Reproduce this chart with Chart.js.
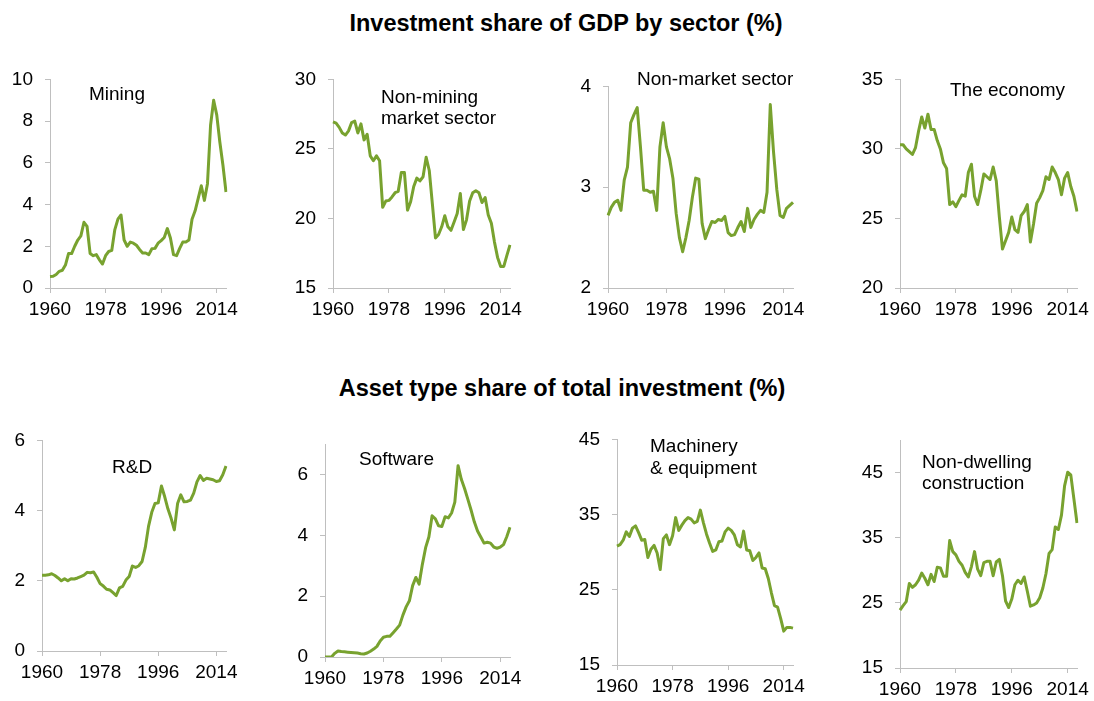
<!DOCTYPE html>
<html>
<head>
<meta charset="utf-8">
<script src="https://cdn.jsdelivr.net/npm/chart.js@4.4.1/dist/chart.umd.min.js"></script>
<style>
  body { margin: 0; background: #fff; width: 1094px; height: 701px; position: relative; overflow: hidden; font-family: "Liberation Sans", Arial, sans-serif; }
  .title { position: absolute; transform: translateX(-50%); white-space: nowrap; font-weight: bold; font-size: 23.5px; line-height: 27px; color: #000; }
  .lbl { position: absolute; white-space: nowrap; font-size: 19px; line-height: 21px; color: #000; }
  canvas { position: absolute; }
</style>
</head>
<body>
<div class="title" style="left:566px; top:10px">Investment share of GDP by sector (%)</div>
<div class="title" style="left:562px; top:375px">Asset type share of total investment (%)</div>

<script>
// categories (years) and the labelled ticks
const years = [1960, 1961, 1962, 1963, 1964, 1965, 1966, 1967, 1968, 1969,
  1970, 1971, 1972, 1973, 1974, 1975, 1976, 1977, 1978, 1979,
  1980, 1981, 1982, 1983, 1984, 1985, 1986, 1987, 1988, 1989,
  1990, 1991, 1992, 1993, 1994, 1995, 1996, 1997, 1998, 1999,
  2000, 2001, 2002, 2003, 2004, 2005, 2006, 2007, 2008, 2009,
  2010, 2011, 2012, 2013, 2014, 2015, 2016, 2017];
const tickYears = [1960, 1978, 1996, 2014];

// Investment share of GDP by sector (%)
const mining = [0.55, 0.56, 0.65, 0.8, 0.85, 1.1, 1.65, 1.65, 2.0, 2.3,
  2.5, 3.15, 2.95, 1.65, 1.55, 1.6, 1.35, 1.15, 1.55, 1.75,
  1.8, 2.8, 3.3, 3.5, 2.3, 2.0, 2.2, 2.15, 2.05, 1.85,
  1.68, 1.68, 1.6, 1.88, 1.9, 2.15, 2.27, 2.42, 2.85, 2.4,
  1.6, 1.55, 1.9, 2.2, 2.2, 2.3, 3.3, 3.7, 4.3, 4.9,
  4.2, 5.0, 7.8, 9.0, 8.3, 7.0, 5.9, 4.6];
const nonMining = [26.94, 26.85, 26.55, 26.15, 26.0, 26.3, 26.9, 27.0, 26.15, 26.8,
  25.65, 26.05, 24.5, 24.15, 24.5, 24.15, 20.8, 21.25, 21.3, 21.55,
  21.85, 21.95, 23.3, 23.3, 20.6, 21.2, 22.3, 22.9, 22.7, 23.0,
  24.4, 23.45, 21.05, 18.6, 18.85, 19.4, 20.2, 19.4, 19.15, 19.75,
  20.35, 21.8, 19.2, 19.9, 21.25, 21.85, 22.0, 21.85, 21.15, 21.5,
  20.25, 19.65, 18.3, 17.2, 16.55, 16.55, 17.35, 18.1];
const nonMarket = [2.72, 2.80, 2.85, 2.87, 2.77, 3.07, 3.2, 3.64, 3.72, 3.79,
  3.4, 2.97, 2.97, 2.95, 2.96, 2.77, 3.4, 3.64, 3.4, 3.28,
  3.09, 2.74, 2.5, 2.36, 2.5, 2.67, 2.9, 3.09, 3.08, 2.64,
  2.49, 2.58, 2.66, 2.65, 2.68, 2.67, 2.71, 2.55, 2.52, 2.53,
  2.6, 2.66, 2.56, 2.79, 2.6, 2.68, 2.73, 2.77, 2.75, 2.95,
  3.82, 3.35, 2.98, 2.72, 2.7, 2.79, 2.82, 2.85];
const economy = [30.3, 30.3, 30.0, 29.8, 29.6, 30.1, 31.3, 32.3, 31.5, 32.5,
  31.4, 31.4, 30.6, 30.0, 29.0, 28.6, 26.0, 26.2, 25.85, 26.3,
  26.7, 26.6, 28.3, 28.9, 26.6, 26.0, 27.0, 28.2, 28.0, 27.8,
  28.7, 27.7, 25.1, 22.8, 23.4, 24.0, 25.1, 24.2, 24.0, 25.2,
  25.5, 26.0, 23.3, 24.6, 26.1, 26.5, 27.0, 28.0, 27.8, 28.7,
  28.3, 27.8, 26.7, 27.9, 28.3, 27.3, 26.6, 25.5];

// Asset type share of total investment (%)
const rnd = [2.16, 2.16, 2.17, 2.2, 2.15, 2.08, 2.0, 2.06, 2.0, 2.06,
  2.05, 2.08, 2.12, 2.16, 2.24, 2.23, 2.25, 2.1, 1.92, 1.85,
  1.76, 1.74, 1.66, 1.58, 1.8, 1.84, 2.02, 2.12, 2.42, 2.38,
  2.43, 2.55, 2.95, 3.55, 3.95, 4.2, 4.22, 4.7, 4.4, 4.05,
  3.78, 3.45, 4.2, 4.45, 4.25, 4.26, 4.3, 4.5, 4.82, 5.0,
  4.86, 4.92, 4.9, 4.88, 4.83, 4.85, 5.02, 5.27];
const software = [0, 0, 0, 0.12, 0.2, 0.18, 0.17, 0.16, 0.15, 0.14,
  0.13, 0.11, 0.1, 0.13, 0.19, 0.26, 0.35, 0.53, 0.65, 0.68,
  0.68, 0.8, 0.92, 1.05, 1.38, 1.65, 1.85, 2.35, 2.62, 2.4,
  3.05, 3.6, 3.95, 4.65, 4.55, 4.32, 4.3, 4.62, 4.58, 4.74,
  5.1, 6.3, 5.85, 5.55, 5.2, 4.84, 4.45, 4.15, 3.95, 3.75,
  3.78, 3.75, 3.62, 3.58, 3.62, 3.7, 3.96, 4.27];
const machinery = [30.8, 31.0, 31.6, 32.7, 32.1, 33.2, 33.5, 32.6, 31.6, 31.7,
  29.3, 30.4, 30.9, 29.9, 27.7, 31.8, 32.3, 31.0, 32.2, 34.6,
  32.9, 33.6, 34.2, 34.6, 34.4, 33.9, 34.1, 35.6, 33.9, 32.4,
  31.2, 30.1, 30.3, 31.4, 31.5, 32.7, 33.2, 32.9, 32.3, 31.0,
  30.7, 32.8, 30.3, 30.2, 28.9, 29.3, 29.9, 27.9, 27.8, 26.5,
  24.6, 22.9, 22.7, 21.2, 19.5, 20.0, 20.0, 19.9];
const nonDwelling = [23.9, 24.6, 25.2, 28.0, 27.4, 27.8, 28.5, 29.6, 28.8, 27.8,
  29.4, 28.3, 30.5, 30.4, 29.1, 29.1, 34.6, 32.9, 32.4, 31.4,
  30.8, 29.7, 29.0, 30.6, 32.9, 30.2, 29.2, 31.2, 31.4, 31.4,
  29.2, 31.3, 31.7, 29.2, 25.3, 24.3, 25.6, 27.8, 28.5, 28.0,
  29.0, 26.8, 24.5, 24.7, 25.0, 25.8, 27.3, 29.5, 32.6, 33.2,
  36.7, 36.3, 38.5, 43.0, 45.1, 44.7, 41.0, 37.3];

// y tick labels for each panel
const ticksMining = [0, 2, 4, 6, 8, 10];
const ticksNonMining = [15, 20, 25, 30];
const ticksNonMarket = [2, 3, 4];
const ticksEconomy = [20, 25, 30, 35];
const ticksRnd = [0, 2, 4, 6];
const ticksSoftware = [0, 2, 4, 6];
const ticksMachinery = [15, 25, 35, 45];
const ticksNonDwelling = [15, 25, 35, 45];

// panel layout: canvas box [left, top, width, height], label position [left, top]
const panels = [
  { data: mining,      min: 0,  max: 10, ticks: ticksMining,      name: ['Mining'],                        box: [10, 56, 236, 272],  pos: [89, 83] },
  { data: nonMining,   min: 15, max: 30, ticks: ticksNonMining,   name: ['Non-mining', 'market sector'],   box: [293, 56, 237, 272], pos: [381, 86] },
  { data: nonMarket,   min: 2,  max: 4,  ticks: ticksNonMarket,   name: ['Non-market sector'],             box: [568, 63, 245, 265], pos: [637, 68] },
  { data: economy,     min: 20, max: 35, ticks: ticksEconomy,     name: ['The economy'],                   box: [860, 56, 237, 272], pos: [950, 79] },
  { data: rnd,         min: 0,  max: 6,  ticks: ticksRnd,         name: ['R&D'],                           box: [2, 417, 244, 274],  pos: [112, 456] },
  { data: software,    min: 0,  max: 7,  ticks: ticksSoftware,    name: ['Software'],                      box: [285, 421, 245, 276], pos: [359, 448] },
  { data: machinery,   min: 15, max: 45, ticks: ticksMachinery,   name: ['Machinery', '& equipment'],      box: [577, 416, 236, 289], pos: [650, 435], lh: 21.5 },
  { data: nonDwelling, min: 15, max: 50, ticks: ticksNonDwelling, name: ['Non-dwelling', 'construction'],  box: [860, 417, 237, 291], pos: [922, 452], lh: 20.7 }
];

const FONT = 'Liberation Sans, Arial, sans-serif';
const GREEN = '#78a22f';
const AXIS = '#bfbfbf';

panels.forEach(p => {
  const [l, t, w, h] = p.box;
  const cv = document.createElement('canvas');
  cv.width = w; cv.height = h;
  cv.style.left = l + 'px'; cv.style.top = t + 'px';
  cv.style.width = w + 'px'; cv.style.height = h + 'px';
  document.body.appendChild(cv);

  const lbl = document.createElement('div');
  lbl.className = 'lbl';
  lbl.style.left = p.pos[0] + 'px';
  lbl.style.top = p.pos[1] + 'px';
  if (p.lh) lbl.style.lineHeight = p.lh + 'px';
  lbl.innerHTML = p.name.map(s => s.replace('&', '&amp;')).join('<br>');
  document.body.appendChild(lbl);

  new Chart(cv, {
    type: 'line',
    data: {
      labels: years,
      datasets: [{
        data: p.data,
        borderColor: GREEN,
        borderWidth: 3,
        pointRadius: 0,
        tension: 0,
        fill: false,
        borderJoinStyle: 'round'
      }]
    },
    options: {
      responsive: false,
      animation: false,
      events: [],
      layout: { padding: { top: 14, right: 20, left: 0, bottom: 0 } },
      plugins: { legend: { display: false }, tooltip: { enabled: false } },
      scales: {
        x: {
          type: 'category',
          offset: false,
          afterBuildTicks: s => { s.ticks = s.ticks.filter(tk => tickYears.includes(years[tk.value])); },
          afterFit: s => { s.height = 40; },
          grid: { drawOnChartArea: false, drawTicks: true, tickLength: 5, color: AXIS, offset: false },
          border: { color: AXIS, width: 1 },
          ticks: { autoSkip: false, maxRotation: 0, padding: 5, color: '#000', font: { family: FONT, size: 19 } }
        },
        y: {
          min: p.min,
          max: p.max,
          ticks: { padding: 12, color: '#000', font: { family: FONT, size: 19 } },
          afterBuildTicks: s => { s.ticks = p.ticks.map(v => ({ value: v })); },
          afterFit: s => { s.width = 40; },
          grid: { drawOnChartArea: false, drawTicks: true, tickLength: 5, color: AXIS },
          border: { color: AXIS, width: 1 }
        }
      }
    }
  });
});
</script>
</body>
</html>
